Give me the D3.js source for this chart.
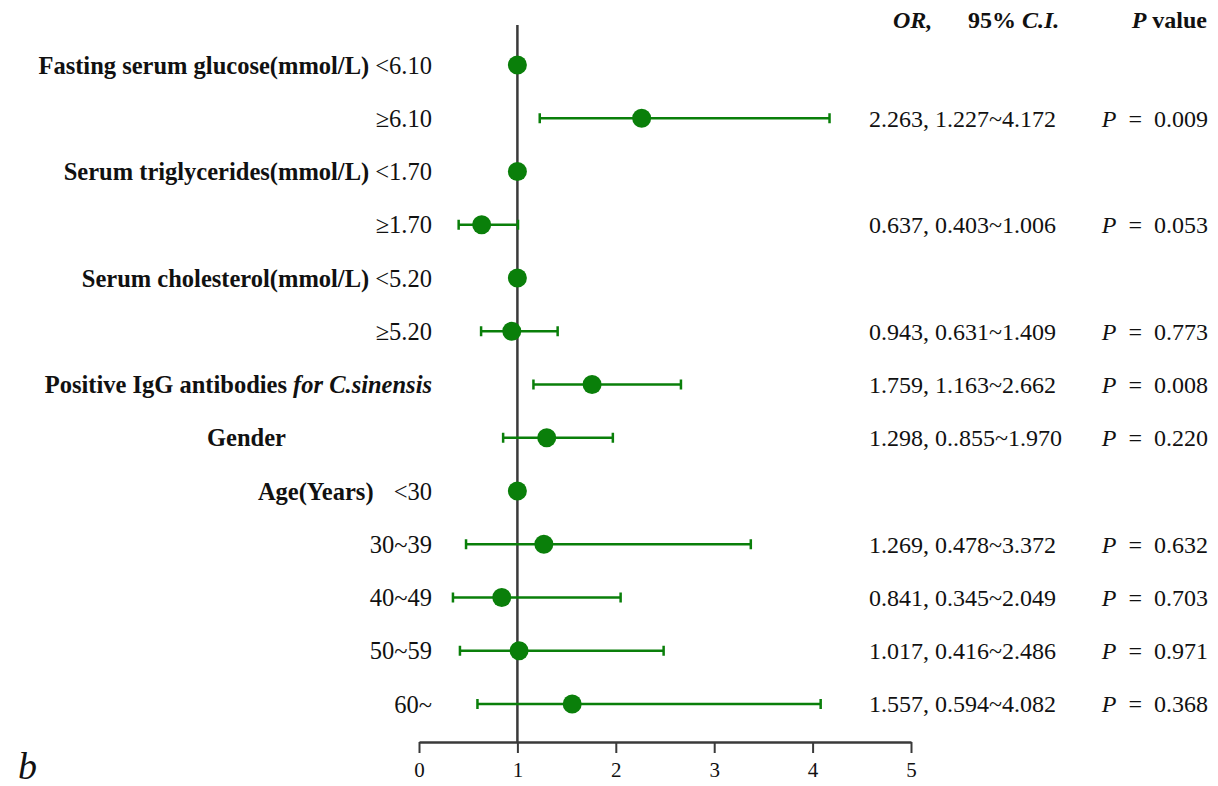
<!DOCTYPE html>
<html>
<head>
<meta charset="utf-8">
<script src="https://cdn.jsdelivr.net/npm/d3@7"></script>
<style>
  body { margin: 0; background: #fff; }
  text { font-family: "Liberation Serif", "Times New Roman", serif; fill: #111; }
</style>
</head>
<body>
<div id="forest"></div>
<script>
/*row data, top to bottom*/
var groupLabels = ["Fasting serum glucose(mmol/L)", "", "Serum triglycerides(mmol/L)", "", "Serum cholesterol(mmol/L)", "",
  "Positive IgG antibodies", "Gender", "Age(Years)", "", "", "", ""];
var groupItalic = ["", "", "", "", "", "", "for C.sinensis", "", "", "", "", "", ""];
var levels = ["<6.10", "≥6.10", "<1.70", "≥1.70", "<5.20", "≥5.20", "", "", "<30", "30~39", "40~49", "50~59", "60~"];
var oddsRatio = [1, 2.263, 1, 0.637, 1, 0.943, 1.759, 1.298, 1, 1.269, 0.841, 1.017, 1.557];
var ciLower = [null, 1.227, null, 0.403, null, 0.631, 1.163, 0.855, null, 0.478, 0.345, 0.416, 0.594];
var ciUpper = [null, 4.172, null, 1.006, null, 1.409, 2.662, 1.970, null, 3.372, 2.049, 2.486, 4.082];
var ciText = ["", "2.263, 1.227~4.172", "", "0.637, 0.403~1.006", "", "0.943, 0.631~1.409", "1.759, 1.163~2.662",
  "1.298, 0..855~1.970", "", "1.269, 0.478~3.372", "0.841, 0.345~2.049", "1.017, 0.416~2.486", "1.557, 0.594~4.082"];
var pValues = ["", "0.009", "", "0.053", "", "0.773", "0.008", "0.220", "", "0.632", "0.703", "0.971", "0.368"];
var xTicks = [0, 1, 2, 3, 4, 5];

var svgWidth = 1218, svgHeight = 786;
var green = "#0a7f0a";

var svg = d3.select("#forest").append("svg")
  .attr("width", svgWidth)
  .attr("height", svgHeight);

var rows = d3.range(levels.length);

/*scales*/
var xScale = d3.scaleLinear().domain([0, 5]).range([419, 911]);
var yScale = d3.scalePoint().domain(rows).range([65, 704]);
var axisY = 742;

/*reference line at OR = 1*/
svg.append("line")
  .attr("x1", xScale(1)).attr("x2", xScale(1))
  .attr("y1", 25).attr("y2", axisY)
  .attr("stroke", "#3a3a3a")
  .attr("stroke-width", 2.5);

/*bottom axis*/
var bottomAxis = d3.axisBottom(xScale).tickValues(xTicks).tickSize(11).tickSizeOuter(0).tickFormat(d3.format("d"));
var axisG = svg.append("g")
  .attr("transform", `translate(0,${axisY})`)
  .call(bottomAxis)
  .attr("font-size", 21)
  .attr("font-family", "Liberation Serif");
axisG.select(".domain").attr("stroke", "#3a3a3a").attr("stroke-width", 2.5);
axisG.selectAll(".tick line").attr("stroke", "#3a3a3a").attr("stroke-width", 2);
axisG.selectAll(".tick text")
  .attr("y", 20)
  .attr("fill", "#111");

/*confidence intervals*/
var ciRows = rows.filter(i => ciLower[i] != null);
var bars = svg.append("g").selectAll("g").data(ciRows).enter().append("g")
  .attr("stroke", green).attr("stroke-width", 2.5);
bars.append("line")
  .attr("x1", i => xScale(ciLower[i])).attr("x2", i => xScale(ciUpper[i]))
  .attr("y1", i => yScale(i)).attr("y2", i => yScale(i));
bars.append("line")
  .attr("x1", i => xScale(ciLower[i])).attr("x2", i => xScale(ciLower[i]))
  .attr("y1", i => yScale(i) - 5).attr("y2", i => yScale(i) + 5);
bars.append("line")
  .attr("x1", i => xScale(ciUpper[i])).attr("x2", i => xScale(ciUpper[i]))
  .attr("y1", i => yScale(i) - 5).attr("y2", i => yScale(i) + 5);

/*point estimates*/
svg.append("g").selectAll("circle").data(rows).enter().append("circle")
  .attr("cx", i => xScale(oddsRatio[i]))
  .attr("cy", i => yScale(i))
  .attr("r", 9.5)
  .attr("fill", green);

/*left labels*/
var labelX = 432;
var labelShift = { 7: -146 }; /*Gender sits to the left on its own*/
var labels = svg.append("g").selectAll("text").data(rows).enter().append("text")
  .attr("x", i => labelX + (labelShift[i] || 0))
  .attr("y", i => yScale(i))
  .attr("dy", "0.35em")
  .attr("text-anchor", "end")
  .style("font-size", "24.5px");
labels.each(function(i) {
  var t = d3.select(this);
  if (groupLabels[i]) t.append("tspan").style("font-weight", "bold").text(groupLabels[i]);
  if (groupItalic[i]) t.append("tspan").style("font-weight", "bold").style("font-style", "italic").text(" " + groupItalic[i]);
  if (levels[i]) {
    var lv = t.append("tspan").text((groupLabels[i] ? " " : "") + levels[i]);
    if (i == 8) lv.attr("dx", 14);
  }
});

/*right column headers*/
svg.append("text")
  .attr("x", 893).attr("y", 28)
  .style("font-size", "24px").style("font-weight", "bold").style("font-style", "italic")
  .text("OR,");
var ciHead = svg.append("text")
  .attr("x", 968).attr("y", 28)
  .style("font-size", "24px").style("font-weight", "bold");
ciHead.append("tspan").text("95% ");
ciHead.append("tspan").style("font-style", "italic").text("C.I.");
var pHead = svg.append("text")
  .attr("x", 1207).attr("y", 28)
  .attr("text-anchor", "end")
  .style("font-size", "24px").style("font-weight", "bold");
pHead.append("tspan").style("font-style", "italic").text("P");
pHead.append("tspan").text(" value");

/*OR, CI and P value per row*/
var textRows = rows.filter(i => ciText[i]);
svg.append("g").selectAll("text").data(textRows).enter().append("text")
  .attr("x", 869)
  .attr("y", i => yScale(i))
  .attr("dy", "0.35em")
  .style("font-size", "24px")
  .text(i => ciText[i]);

var pTexts = svg.append("g").selectAll("text").data(textRows).enter().append("text")
  .attr("x", 1208)
  .attr("y", i => yScale(i))
  .attr("dy", "0.35em")
  .attr("text-anchor", "end")
  .style("font-size", "24px");
pTexts.append("tspan").style("font-style", "italic").text("P");
pTexts.append("tspan").text(i => "\u2002=\u2002" + pValues[i]);

/*panel letter*/
svg.append("text")
  .attr("x", 18).attr("y", 779)
  .style("font-size", "38px").style("font-style", "italic")
  .text("b");
</script>
</body>
</html>
